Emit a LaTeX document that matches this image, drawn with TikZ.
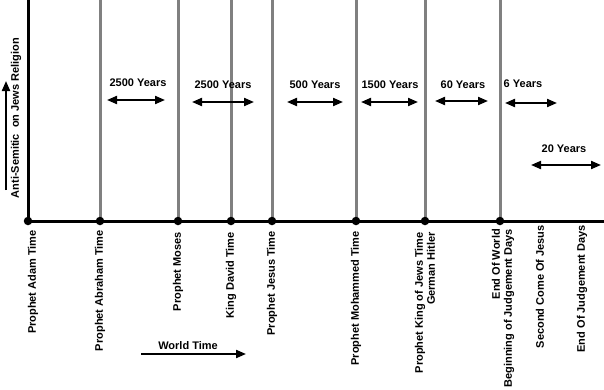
\documentclass[tikz,border=0pt]{standalone}
\usepackage{fontspec}
\setmainfont{Liberation Sans}
\usetikzlibrary{arrows.meta}
\begin{document}
\begin{tikzpicture}[x=1pt,y=-1pt,
  lbl/.style={font=\fontsize{11}{12}\selectfont\bfseries, inner sep=0pt},
  vlbl/.style={lbl, rotate=90, anchor=east, align=right},
  era/.style={draw=gray, line width=3pt},
  axis/.style={draw=black, line width=3pt},
  dotp/.style={circle, fill=black, inner sep=0pt, minimum size=8.5pt},
  span/.style={line width=2pt, {Triangle[length=10pt,width=8pt]}-{Triangle[length=10pt,width=8pt]}},
  onearrow/.style={line width=2pt, -{Triangle[length=10pt,width=8pt]}}]
\useasboundingbox[fill=white] (0,0) rectangle (604,389);
% era lines
\foreach \n/\x in {b/100,c/178,d/231,e/272,f/356,g/425,h/500}{
  \coordinate (top\n) at (\x,0);
  \coordinate (p\n) at (\x,221);
  \draw[era] (top\n) -- (p\n);
}
\coordinate (pa) at (28,221);
\coordinate (topa) at (28,0);
\coordinate (axend) at (604,221);
\draw[axis] (topa) -- (pa) -- (axend);
\foreach \n in {a,b,c,d,e,f,g,h}{ \node[dotp] (dot\n) at (p\n) {}; }
% labels below axis
\node[vlbl] (la) at (33,230) {Prophet Adam Time};
\node[vlbl] (lb) at (100,230) {Prophet Abraham Time};
\node[vlbl] (lc) at (178,232) {Prophet Moses};
\node[vlbl] (ld) at (231,232) {King David Time};
\node[vlbl] (le) at (272,231) {Prophet Jesus Time};
\node[vlbl] (lf) at (356,231) {Prophet Mohammed Time};
\node[vlbl] (lg) at (425,232) {Prophet King of Jews Time\\German Hitler};
\node[vlbl] (lh) at (503,229) {End Of World\\Beginning of Judgement Days};
\node[vlbl] (li) at (540,225) {Second Come Of Jesus};
\node[vlbl] (lj) at (582,225) {End Of Judgement Days};
% world time
\node[lbl] (wt) at (188,346) {World Time};
\coordinate (wts) at (141,354);
\coordinate (wte) at (246,354);
\draw[onearrow] (wts) -- (wte);
% y axis label
\node[lbl, rotate=90] (yl) at (16,118) {Anti-Semitic\ \ on Jews Religion};
\coordinate (ys) at (6,190);
\coordinate (ye) at (6,81);
\draw[onearrow] (ys) -- (ye);
% spans
\foreach \n/\t/\tx/\ty/\xa/\xb/\ay in {
  s1/2500 Years/138/83/107/165/100,
  s2/2500 Years/223/85/192/254/102,
  s3/500 Years/315/85/287/343/102,
  s4/1500 Years/390/85/361/418/102,
  s5/60 Years/463/85/435/488/101,
  s6/6 Years/523/84/505/557/103,
  s7/20 Years/564/149/531/601/165}{
  \node[lbl] (t\n) at (\tx,\ty) {\t};
  \coordinate (a\n) at (\xa,\ay);
  \coordinate (b\n) at (\xb,\ay);
  \draw[span] (a\n) -- (b\n);
}
\end{tikzpicture}
\end{document}
